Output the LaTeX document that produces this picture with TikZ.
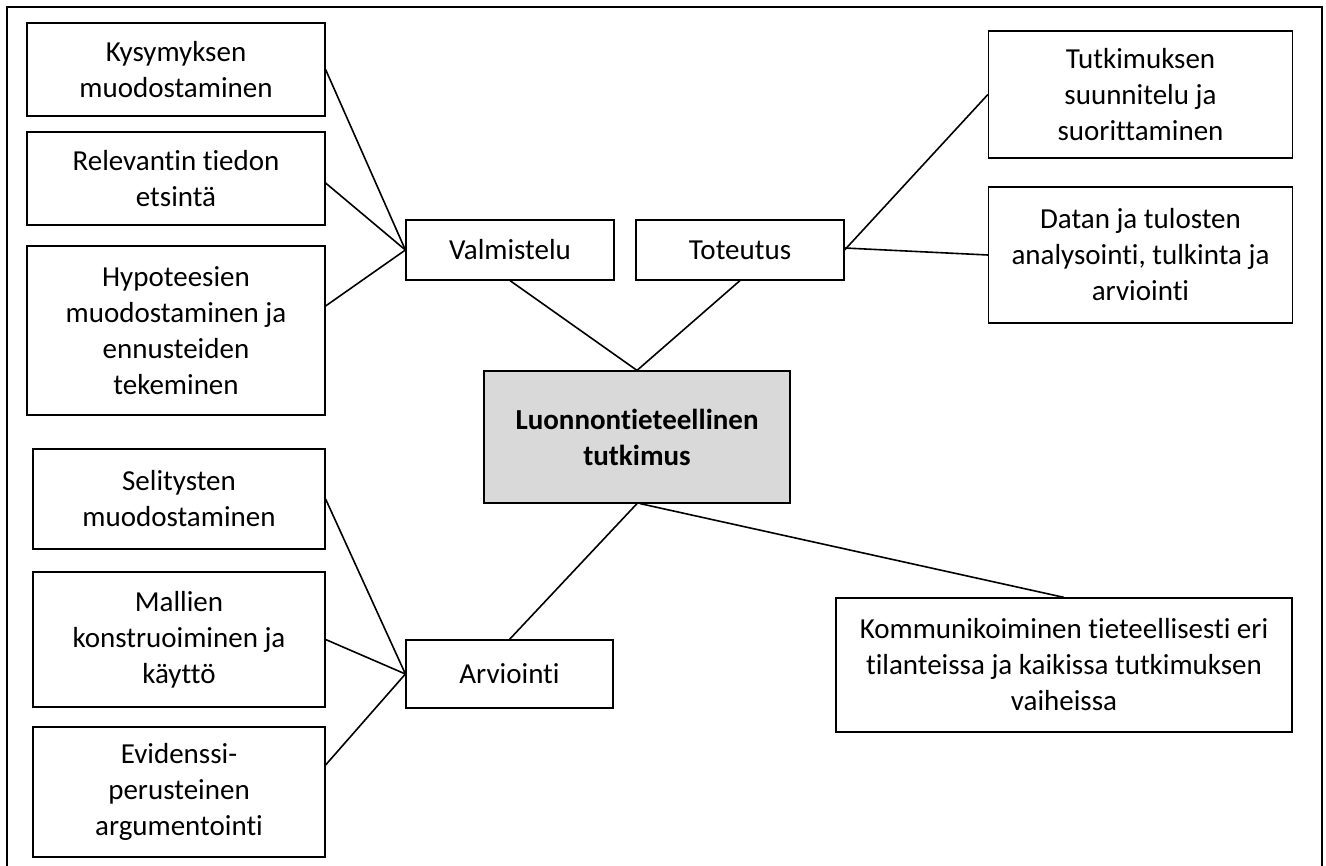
\documentclass[tikz,border=0pt]{standalone}
\usepackage{fontspec}
\setmainfont{Carlito}[Ligatures=NoCommon]
\definecolor{centerfill}{RGB}{217,217,217}
\begin{document}
\begin{tikzpicture}[x=1pt,y=-1pt,
  box/.style={draw=black, line width=1.2pt, fill=white, inner sep=0pt, align=center,
              font=\fontsize{29}{36}\selectfont},
  conn/.style={line width=1.6pt}]
\useasboundingbox (0,0) rectangle (1326,866);
\clip (0,0) rectangle (1326,866);
\draw[line width=2pt] (6.5,7.5) rectangle (1322,880);

\node[box, minimum width=298pt, minimum height=93pt] (k1) at (176,69.5) {Kysymyksen\\muodostaminen};
\node[box, minimum width=298pt, minimum height=93pt] (k2) at (176,178.5) {Relevantin tiedon\\etsintä};
\node[box, minimum width=298pt, minimum height=169pt] (k3) at (176,330.5) {Hypoteesien\\muodostaminen ja\\ennusteiden\\tekeminen};
\node[box, minimum width=208pt, minimum height=60pt] (valm) at (510,250) {Valmistelu};
\node[box, minimum width=208pt, minimum height=60pt] (tot) at (740,250) {Toteutus};
\node[box, minimum width=304pt, minimum height=127pt] (tutk) at (1140.5,94.5) {Tutkimuksen\\suunnitelu ja\\suorittaminen};
\node[box, minimum width=304pt, minimum height=136pt] (datan) at (1140.5,255) {Datan ja tulosten\\analysointi, tulkinta ja\\arviointi};
\node[box, fill=centerfill, minimum width=306pt, minimum height=132pt,
      font=\fontsize{29}{36}\selectfont\bfseries] (center) at (637,437) {Luonnontieteellinen\\tutkimus};
\node[box, minimum width=292pt, minimum height=100pt] (sel) at (179,499) {Selitysten\\muodostaminen};
\node[box, minimum width=292pt, minimum height=135pt] (mal) at (179,639.5) {Mallien\\konstruoiminen ja\\käyttö};
\node[box, minimum width=292pt, minimum height=130pt] (evi) at (179,792) {Evidenssi-\\perusteinen\\argumentointi};
\node[box, minimum width=207pt, minimum height=68pt] (arv) at (509.5,674) {Arviointi};
\node[box, minimum width=456pt, minimum height=134pt] (komm) at (1064,665) {Kommunikoiminen tieteellisesti eri\\tilanteissa ja kaikissa tutkimuksen\\vaiheissa};

\draw[conn] (k1.east) -- (valm.west);
\draw[conn] ([yshift=-4.5pt]k2.east) -- (valm.west);
\draw[conn] ([yshift=24.5pt]k3.east) -- (valm.west);
\draw[conn] (valm.south) -- (center.north);
\draw[conn] (tot.south) -- (center.north);
\draw[conn] (tot.east) -- (tutk.west);
\draw[conn] ([yshift=2pt]tot.east) -- (datan.west);
\draw[conn] (center.south) -- (arv.north);
\draw[conn] ([xshift=3pt]center.south) -- (komm.north);
\draw[conn] (sel.east) -- (arv.west);
\draw[conn] (mal.east) -- (arv.west);
\draw[conn] ([yshift=27pt]evi.east) -- (arv.west);
\end{tikzpicture}
\end{document}
